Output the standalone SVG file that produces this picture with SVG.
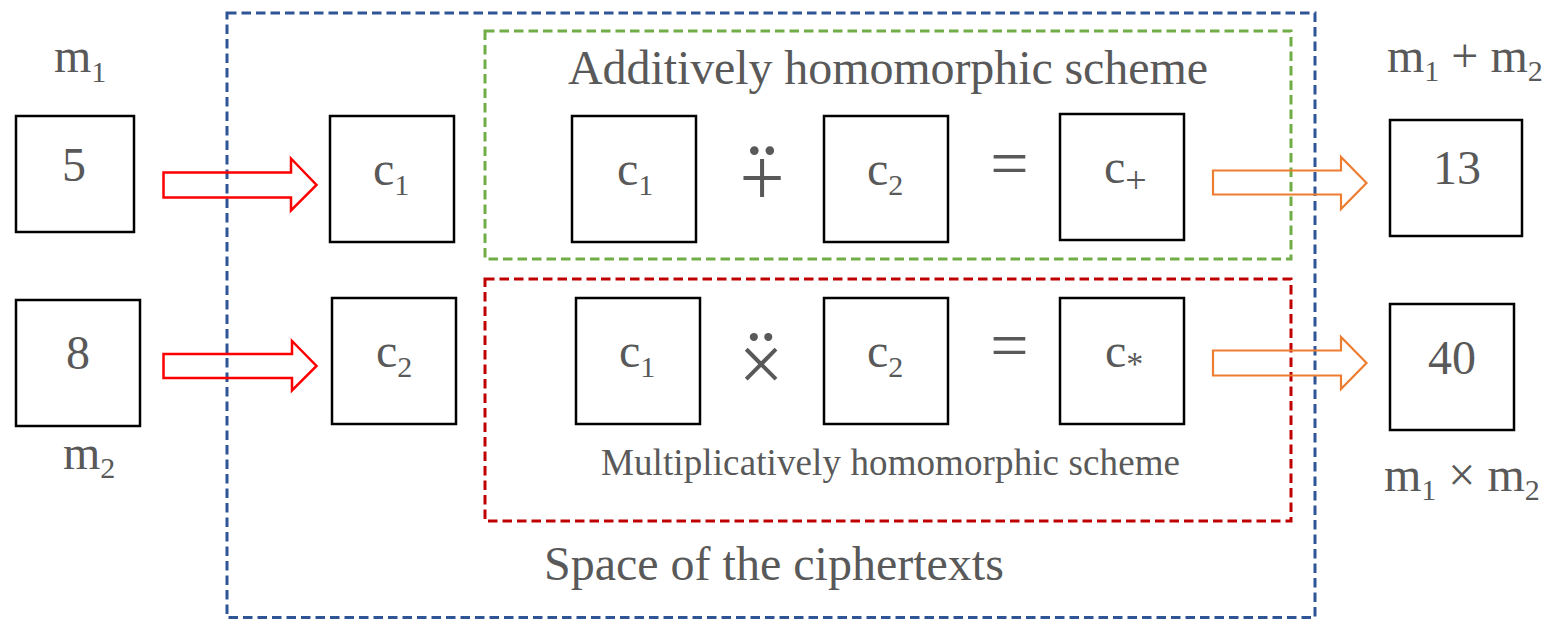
<svg xmlns="http://www.w3.org/2000/svg" width="1547" height="619" viewBox="0 0 1547 619">
  <style>
    .box { fill: #ffffff; stroke: #000000; stroke-width: 2.5; }
    .frame { fill: none; stroke-width: 3; stroke-dasharray: 9.5 5; }
    .t { font-family: "Liberation Serif", "Times New Roman", serif; fill: #595959; font-size: 48px; }
    .sub { font-size: 30px; }
    .op { font-size: 80px; }
    .arrow-in { fill: none; stroke: #ff0000; stroke-width: 2.5; stroke-linejoin: miter; }
    .arrow-out { fill: none; stroke: #ed7d31; stroke-width: 2.2; stroke-linejoin: miter; }
  </style>

  <rect width="1547" height="619" fill="#ffffff"/>

  <!-- region frames -->
  <g id="ciphertext-space">
    <rect class="frame" x="227" y="13" width="1088" height="604.5" stroke="#2f5597"/>
    <text class="t" x="544" y="580">Space of the ciphertexts</text>
  </g>
  <g id="additive-scheme">
    <rect class="frame" x="485" y="31" width="806" height="228" stroke="#70ad47"/>
    <text class="t" x="568" y="84" textLength="640">Additively homomorphic scheme</text>
  </g>
  <g id="multiplicative-scheme">
    <rect class="frame" x="485" y="279" width="806" height="242" stroke="#c00000"/>
    <text class="t" x="601" y="475" style="font-size:37px" textLength="579">Multiplicatively homomorphic scheme</text>
  </g>

  <!-- plaintext inputs -->
  <g id="m1">
    <text class="t" x="54" y="72">m<tspan class="sub" dy="10">1</tspan></text>
    <rect class="box" x="16" y="116" width="118" height="116"/>
    <text class="t" x="74" y="181" text-anchor="middle">5</text>
  </g>
  <g id="m2">
    <rect class="box" x="16" y="300" width="124" height="126"/>
    <text class="t" x="78" y="369" text-anchor="middle">8</text>
    <text class="t" x="63" y="469">m<tspan class="sub" dy="9">2</tspan></text>
  </g>

  <!-- encrypted inputs -->
  <g id="enc-c1">
    <rect class="box" x="330" y="116" width="124" height="126"/>
    <text class="t" x="373" y="185">c<tspan class="sub" dy="10">1</tspan></text>
  </g>
  <g id="enc-c2">
    <rect class="box" x="332" y="298" width="124" height="126"/>
    <text class="t" x="376" y="367">c<tspan class="sub" dy="10">2</tspan></text>
  </g>

  <!-- additive operation: dotted plus -->
  <g id="add-c1">
    <rect class="box" x="572" y="116" width="124" height="126"/>
    <text class="t" x="617" y="185">c<tspan class="sub" dy="10">1</tspan></text>
  </g>
  <g id="add-op">
    <text class="t op" text-anchor="middle"><tspan x="762" y="205">+</tspan><tspan x="762" y="203" style="font-size:89px">¨</tspan></text>
  </g>
  <g id="add-c2">
    <rect class="box" x="824" y="116" width="124" height="126"/>
    <text class="t" x="867" y="185">c<tspan class="sub" dy="10">2</tspan></text>
  </g>
  <g id="add-eq">
    <text class="t" x="1009.5" y="185.5" text-anchor="middle" style="font-size:68px">=</text>
  </g>
  <g id="add-result">
    <rect class="box" x="1060" y="114" width="124" height="126"/>
    <text class="t" x="1104" y="183">c<tspan style="font-size:38px" dy="10">+</tspan></text>
  </g>

  <!-- multiplicative operation: dotted times -->
  <g id="mul-c1">
    <rect class="box" x="576" y="298" width="124" height="126"/>
    <text class="t" x="619" y="367">c<tspan class="sub" dy="10">1</tspan></text>
  </g>
  <g id="mul-op">
    <text class="t op" text-anchor="middle"><tspan x="761" y="391">×</tspan><tspan x="761" y="385" style="font-size:83px">¨</tspan></text>
  </g>
  <g id="mul-c2">
    <rect class="box" x="824" y="298" width="124" height="126"/>
    <text class="t" x="867" y="367">c<tspan class="sub" dy="10">2</tspan></text>
  </g>
  <g id="mul-eq">
    <text class="t" x="1009.5" y="367.5" text-anchor="middle" style="font-size:68px">=</text>
  </g>
  <g id="mul-result">
    <rect class="box" x="1060" y="298" width="124" height="126"/>
    <text class="t" x="1105" y="367">c<tspan style="font-size:34px" dy="8">*</tspan></text>
  </g>

  <!-- decrypted outputs -->
  <g id="sum">
    <text class="t" x="1387" y="72">m<tspan class="sub" dy="9">1</tspan><tspan dy="-9"> + m</tspan><tspan class="sub" dy="9">2</tspan></text>
    <rect class="box" x="1390" y="120" width="132" height="116"/>
    <text class="t" x="1457" y="184" text-anchor="middle">13</text>
  </g>
  <g id="product">
    <rect class="box" x="1390" y="304" width="124" height="126"/>
    <text class="t" x="1452" y="374" text-anchor="middle">40</text>
    <text class="t" x="1384" y="491">m<tspan class="sub" dy="9">1</tspan><tspan dy="-9"> × m</tspan><tspan class="sub" dy="9">2</tspan></text>
  </g>

  <!-- connectors -->
  <g id="connectors">
    <polygon class="arrow-in" points="163.5,172.5 291,172.5 291,158.5 316.5,185 291,210.5 291,197.5 163.5,197.5"/>
    <polygon class="arrow-in" points="163.5,354 292,354 292,341 316.5,366 292,390.5 292,378 163.5,378"/>
    <polygon class="arrow-out" points="1213,170.5 1341,170.5 1341,157 1366.5,183 1341,209 1341,194.5 1213,194.5"/>
    <polygon class="arrow-out" points="1213,350.5 1341,350.5 1341,337 1366.5,363 1341,389 1341,375.5 1213,375.5"/>
  </g>
</svg>
